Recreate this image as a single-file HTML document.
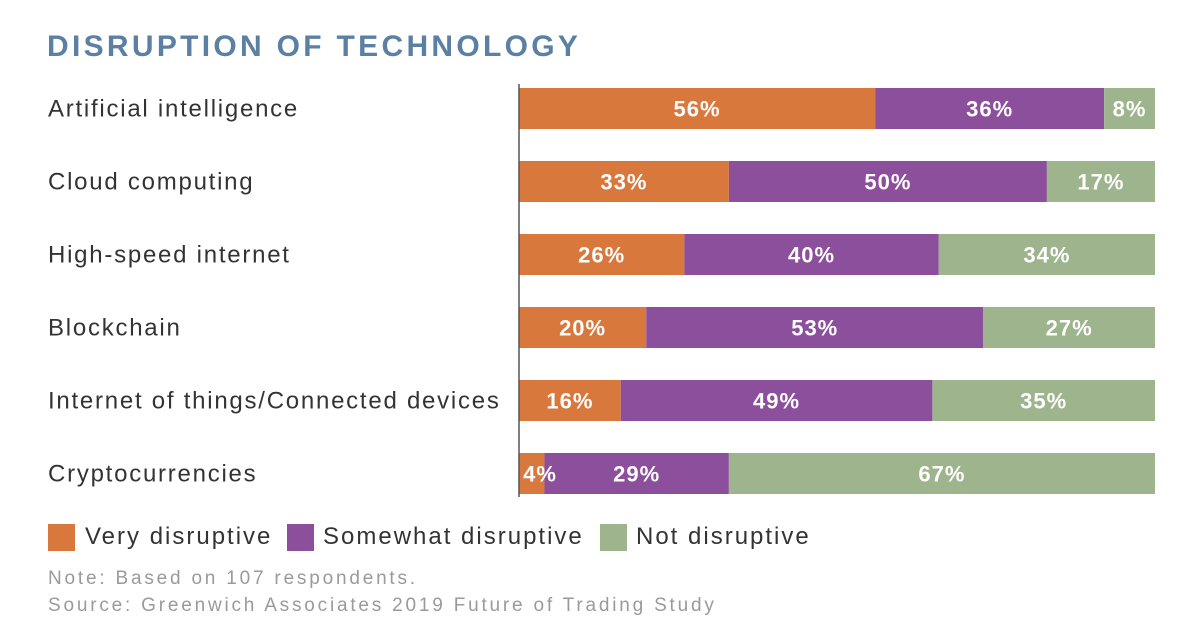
<!DOCTYPE html>
<html><head><meta charset="utf-8"><style>
body{margin:0;background:#fff;font-family:"Liberation Sans",sans-serif;}
#wrap{position:relative;width:1200px;height:642px;overflow:hidden}
.t{position:absolute;white-space:nowrap}
.lg{font-size:24px;color:#333;letter-spacing:2px}
</style></head><body><div id="wrap">
<div class="t" style="left:47px;top:30px;font-size:30px;font-weight:bold;color:#5b80a3;letter-spacing:3.3px;">DISRUPTION OF TECHNOLOGY</div>
<svg id="svg" width="1200" height="642" style="position:absolute;left:0;top:0"></svg>
<div>
<div class="t" style="left:48px;top:524px;width:27px;height:27px;background:#d9783c"></div>
<div class="t lg" style="left:85px;top:523px;">Very disruptive</div>
<div class="t" style="left:287px;top:524px;width:27px;height:27px;background:#8c4f9b"></div>
<div class="t lg" style="left:323px;top:523px;">Somewhat disruptive</div>
<div class="t" style="left:600px;top:524px;width:27px;height:27px;background:#9db48c"></div>
<div class="t lg" style="left:636px;top:523px;">Not disruptive</div>
</div>
<div class="t" style="left:48px;top:568px;font-size:19px;letter-spacing:2.8px;color:#9a9a9a">Note: Based on 107 respondents.</div>
<div class="t" style="left:48px;top:595px;font-size:19px;letter-spacing:2.8px;color:#9a9a9a">Source: Greenwich Associates 2019 Future of Trading Study</div>
</div>
<script>
const categories=["Artificial intelligence","Cloud computing","High-speed internet","Blockchain","Internet of things/Connected devices","Cryptocurrencies"];
const veryValues=[56,33,26,20,16,4];
const somewhatValues=[36,50,40,53,49,29];
const notValues=[8,17,34,27,35,67];
const seriesNames=["very","somewhat","not"];
const colors=["#d9783c","#8c4f9b","#9db48c"];
const NS="http://www.w3.org/2000/svg",svg=document.getElementById("svg");
const x0=519,W=636,top0=88,pitch=73,bh=41;
const xs=v=>x0+v/100*W;
const ys=i=>top0+i*pitch;
function mk(t,a){const e=document.createElementNS(NS,t);for(const k in a)e.setAttribute(k,a[k]);svg.appendChild(e);return e;}
const series=[veryValues,somewhatValues,notValues];
const labels=[];
categories.forEach((c,i)=>{
  const lab=mk("text",{x:48,y:ys(i)+bh/2+8,"font-size":24,fill:"#333","letter-spacing":1.75});
  lab.textContent=c;
  
  
  let acc=0;
  series.forEach((s,j)=>{
    const v=s[i];
    const r=mk("rect",{x:xs(acc),y:ys(i),width:xs(acc+v)-xs(acc),height:bh,fill:colors[j]});
    
    
    let cx=(xs(acc)+xs(acc+v))/2;
    cx=Math.max(cx,xs(acc)+21);
    labels.push([cx,ys(i)+bh/2+8,v]);
    acc+=v;
  });
});
labels.forEach(([cx,y,v])=>{
  const t=mk("text",{x:cx,y:y,"font-size":22,"font-weight":"bold",fill:"#fff","text-anchor":"middle","letter-spacing":1});
  t.textContent=v+"%";
  
  
});
const ax=mk("line",{x1:x0,y1:84,x2:x0,y2:497,stroke:"#555","stroke-width":1.5});


</script></body></html>
